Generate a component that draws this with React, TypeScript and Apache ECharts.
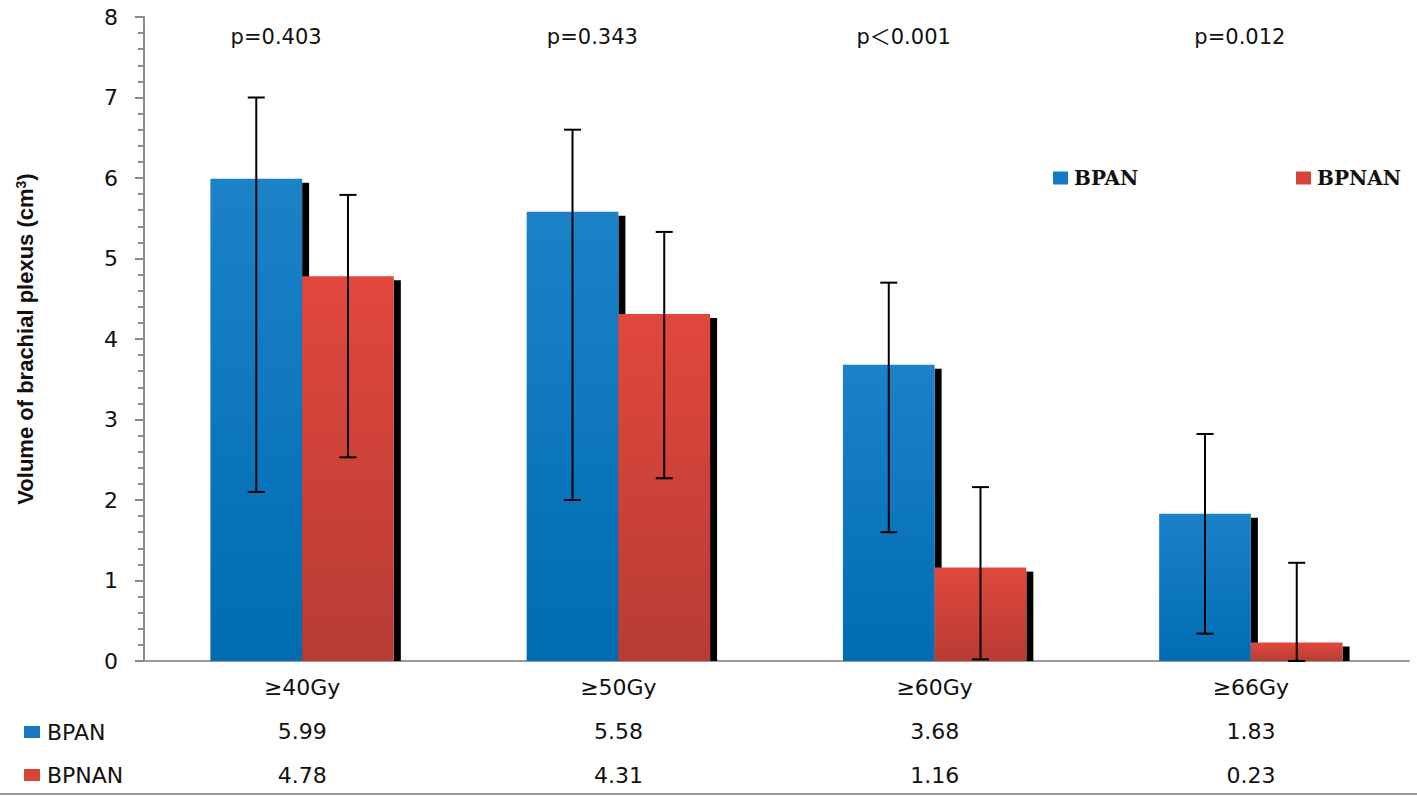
import React, { useEffect, useRef } from 'react'
import * as echarts from 'echarts'

const categories = ['≥40Gy', '≥50Gy', '≥60Gy', '≥66Gy']
const bpanValues = [5.99, 5.58, 3.68, 1.83]
const bpnanValues = [4.78, 4.31, 1.16, 0.23]
const bpanLow = [2.1, 2.0, 1.6, 0.34]
const bpanHigh = [7.0, 6.6, 4.7, 2.82]
const bpnanLow = [2.53, 2.27, 0.02, 0.0]
const bpnanHigh = [5.79, 5.33, 2.16, 1.22]
const pLabels = ['p=0.403', 'p=0.343', 'p＜0.001', 'p=0.012']

const BLUE = '#1479c2'
const RED = '#d9443a'
const BAR_RATIO = 0.29
const SANS = '"DejaVu Sans", "Noto Sans CJK SC", sans-serif'

// shift of the p labels from the category centre, px
const P_SHIFT = [-26, -26, -31, -11]

function shadowSeries(values: number[], side: number): any {
  return {
    type: 'custom',
    z: 1,
    silent: true,
    data: values.map((v, i) => [i, v]),
    renderItem: (params: any, api: any) => {
      const top = api.coord([api.value(0), api.value(1)])
      const base = api.coord([api.value(0), 0])
      const bw = api.size([1, 0])[0] * BAR_RATIO
      const x = top[0] + side * bw
      return {
        type: 'rect',
        shape: { x, y: top[1] + 4, width: 7, height: Math.max(0, base[1] - top[1] - 4) },
        style: { fill: '#000' }
      }
    }
  }
}

function errorSeries(low: number[], high: number[], side: number): any {
  return {
    type: 'custom',
    z: 3,
    silent: true,
    data: low.map((l, i) => [i, l, high[i]]),
    renderItem: (params: any, api: any) => {
      const bw = api.size([1, 0])[0] * BAR_RATIO
      const lo = api.coord([api.value(0), api.value(1)])
      const hi = api.coord([api.value(0), api.value(2)])
      const x = lo[0] + (side - 0.5) * bw
      const style = { stroke: '#000', lineWidth: 2 }
      return {
        type: 'group',
        children: [
          { type: 'line', shape: { x1: x, y1: lo[1], x2: x, y2: hi[1] }, style },
          { type: 'line', shape: { x1: x - 8.5, y1: hi[1], x2: x + 8.5, y2: hi[1] }, style },
          { type: 'line', shape: { x1: x - 8.5, y1: lo[1], x2: x + 8.5, y2: lo[1] }, style }
        ]
      }
    }
  }
}

function gradient(top: string, bottom: string) {
  return new echarts.graphic.LinearGradient(0, 0, 0, 1, [
    { offset: 0, color: top },
    { offset: 1, color: bottom }
  ])
}

export default function App() {
  const chartRef = useRef<HTMLDivElement>(null)

  useEffect(() => {
    document.body.style.margin = '0'
    if (!chartRef.current) return
    const chart = echarts.init(chartRef.current, null, { renderer: 'svg' })

    const legendText = { fontFamily: '"DejaVu Serif", serif', fontWeight: 'bold', fontSize: 20, color: '#111', padding: [0, 0, 0, 1] }

    const option: any = {
      animation: false,
      textStyle: { fontFamily: SANS },
      grid: { left: 144, right: 8, top: 17, bottom: 135 },
      legend: [
        {
          data: [{ name: 'BPAN', itemStyle: { color: BLUE } }],
          left: 1048, top: 163, icon: 'rect', itemWidth: 15, itemHeight: 13,
          textStyle: legendText
        },
        {
          data: [{ name: 'BPNAN', itemStyle: { color: RED } }],
          left: 1291, top: 163, icon: 'rect', itemWidth: 15, itemHeight: 13,
          textStyle: legendText
        },
        {
          data: [
            { name: 'BPAN', itemStyle: { color: BLUE } },
            { name: 'BPNAN', itemStyle: { color: RED } }
          ],
          orient: 'vertical', left: 19, top: 716, icon: 'rect', itemWidth: 16, itemHeight: 12, itemGap: 21,
          textStyle: { fontFamily: SANS, fontSize: 22, lineHeight: 22, color: '#111', padding: [0, 0, 0, 2] }
        }
      ],
      xAxis: {
        type: 'category',
        data: categories,
        axisTick: { show: false },
        axisLine: { lineStyle: { color: '#9a9a9a', width: 2 } },
        axisLabel: {
          margin: 4,
          interval: 0,
          formatter: (value: string, idx: number) =>
            `{c|${value}}\n{v|${bpanValues[idx].toFixed(2)}}\n{v|${bpnanValues[idx].toFixed(2)}}`,
          rich: {
            c: { fontFamily: SANS, fontSize: 22, lineHeight: 44, color: '#111' },
            v: { fontFamily: SANS, fontSize: 22, lineHeight: 44, color: '#111' }
          }
        }
      },
      yAxis: {
        type: 'value',
        min: 0,
        max: 8,
        interval: 1,
        name: 'Volume of brachial plexus (cm{s|3})',
        nameLocation: 'middle',
        nameGap: 108,
        nameTextStyle: {
          fontFamily: '"Liberation Sans", Arial, sans-serif',
          fontWeight: 'bold',
          fontSize: 22,
          color: '#111',
          rich: {
            s: { fontFamily: '"Liberation Sans", Arial, sans-serif', fontWeight: 'bold', fontSize: 14, verticalAlign: 'top', padding: [0, 0, 8, 0], color: '#111' }
          }
        },
        axisLine: { show: true, lineStyle: { color: '#8a8a8a', width: 2 } },
        axisTick: { show: true, length: 9, lineStyle: { color: '#8a8a8a', width: 2 } },
        minorTick: { show: true, splitNumber: 5, length: 6, lineStyle: { color: '#8a8a8a', width: 2 } },
        splitLine: { show: false },
        axisLabel: { margin: 26, fontFamily: SANS, fontSize: 22, color: '#111' }
      },
      series: [
        shadowSeries(bpanValues, 0),
        shadowSeries(bpnanValues, 1),
        {
          name: 'BPAN',
          type: 'bar',
          z: 2,
          data: bpanValues,
          barWidth: `${BAR_RATIO * 100}%`,
          barGap: '0%',
          itemStyle: { color: gradient('#1b82c8', '#006cb2') }
        },
        {
          name: 'BPNAN',
          type: 'bar',
          z: 2,
          data: bpnanValues,
          barWidth: `${BAR_RATIO * 100}%`,
          barGap: '0%',
          itemStyle: { color: gradient('#e2473d', '#b73c33') }
        },
        errorSeries(bpanLow, bpanHigh, 0),
        errorSeries(bpnanLow, bpnanHigh, 1),
        {
          type: 'custom',
          z: 4,
          silent: true,
          data: pLabels.map((p, i) => [i, 7.75]),
          renderItem: (params: any, api: any) => {
            const pt = api.coord([api.value(0), api.value(1)])
            return {
              type: 'text',
              x: pt[0] + P_SHIFT[params.dataIndex],
              y: pt[1],
              style: {
                text: pLabels[params.dataIndex],
                fontFamily: SANS,
                fontSize: 21,
                fill: '#111',
                align: 'center',
                verticalAlign: 'middle'
              }
            }
          }
        }
      ],
      graphic: [
        {
          type: 'line',
          shape: { x1: 0, y1: 794, x2: 1417, y2: 794 },
          style: { stroke: '#999', lineWidth: 2 }
        }
      ]
    }

    chart.setOption(option)
    return () => chart.dispose()
  }, [])

  return <div ref={chartRef} style={{ width: '1417px', height: '796px' }} />
}
